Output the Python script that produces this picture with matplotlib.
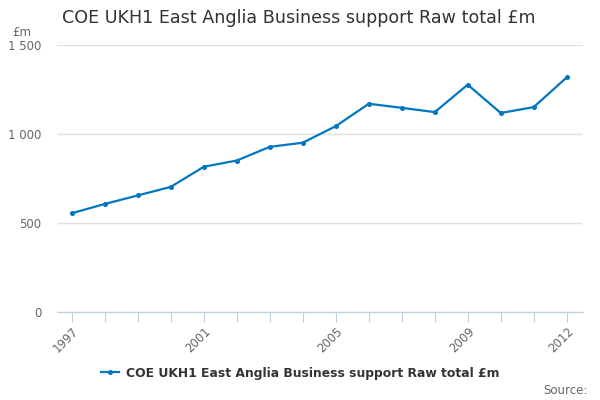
import matplotlib
matplotlib.use("Agg")
import matplotlib.pyplot as plt
from matplotlib.ticker import FuncFormatter

years = list(range(1997, 2013))
values = [555, 607, 655, 703, 816, 851, 928, 951, 1044, 1170, 1147, 1123, 1277, 1118, 1151, 1318]
label_years = [1997, 2001, 2005, 2009, 2012]
series_name = "COE UKH1 East Anglia Business support Raw total £m"
title = "COE UKH1 East Anglia Business support Raw total £m"

plt.rcParams['font.family'] = ['DejaVu Sans']
fig = plt.figure(figsize=(6, 4), dpi=100)
ax = fig.add_axes([0.095, 0.22, 0.877, 0.6675])

line_color = "#0077c0"
ax.plot(years, values, color=line_color, linewidth=1.6, marker="o", markersize=2.6,
        label=series_name)

ax.set_ylim(0, 1500)
ax.set_xlim(1996.55, 2012.5)
ax.set_yticks([0, 500, 1000, 1500])
ax.yaxis.set_major_formatter(FuncFormatter(lambda v, p: f"{int(v):,}".replace(",", " ")))
ax.grid(axis="y", color="#e0e0e0", linewidth=1)
ax.set_axisbelow(True)

ax.set_xticks(years)
ax.set_xticklabels([str(y) if y in label_years else "" for y in years], rotation=45,
                   ha="right", rotation_mode="anchor")
ax.tick_params(axis="x", length=7, color="#c0d0e0", labelsize=8.5, labelcolor="#666666", pad=2)
ax.tick_params(axis="y", length=0, labelsize=8.5, labelcolor="#666666", pad=11)

for s in ["top", "right", "left"]:
    ax.spines[s].set_visible(False)
ax.spines["bottom"].set_color("#c0d0e0")

fig.text(62/600, 1 - 18/400, title, fontsize=12.65, color="#333333", va="center", ha="left")
fig.text(12/600, 1 - 32/400, "£m", fontsize=8.5, color="#666666", va="center", ha="left")
fig.text(588/600, 1 - 390/400, "Source:", fontsize=8.5, color="#666666", va="center", ha="right")

leg = fig.legend(loc="center", bbox_to_anchor=(300/600, 1 - 373/400), frameon=False,
                 prop={"weight": "bold", "size": 8.9}, handlelength=1.5, handletextpad=0.5)
for t in leg.get_texts():
    t.set_color("#333333")

fig.savefig("out.png", dpi=100)
